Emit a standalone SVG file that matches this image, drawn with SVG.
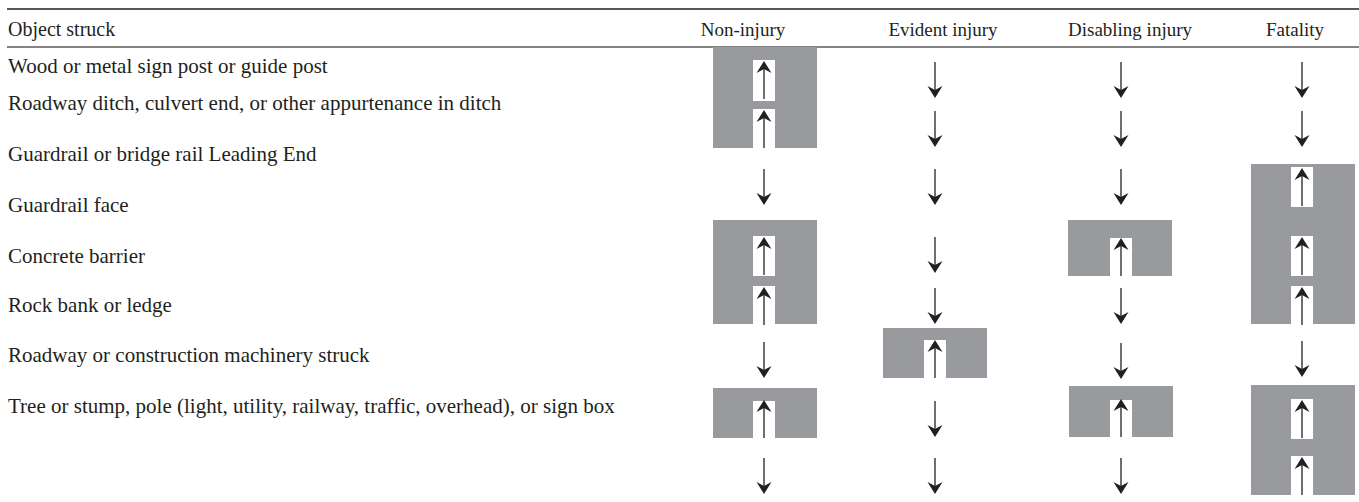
<svg xmlns="http://www.w3.org/2000/svg" width="1359" height="502" viewBox="0 0 1359 502">
<style>
text{font-family:"Liberation Serif","Times New Roman",serif;font-size:21px;fill:#231f20}
.hd{text-anchor:middle;font-size:19px}
.hl{font-size:20px}
.box{fill:#999a9e}
.slot{fill:#ffffff}
.shaft{stroke:#231f20;stroke-width:1.3;fill:none}
.head{fill:#231f20}
.rule{stroke:#231f20;stroke-width:1.6}
.rule2{stroke:#5a5a5a;stroke-width:1.4}
</style>
<defs>
<g id="dn">
<line class="shaft" x1="0" y1="0" x2="0" y2="30"/>
<path class="head" d="M0,36 L-7.5,24 L0,28 L7.5,24 Z"/>
</g>
<g id="up">
<line class="shaft" x1="0" y1="8" x2="0" y2="38"/>
<path class="head" d="M0,0 L-7.5,12 L0,8 L7.5,12 Z"/>
</g>
</defs>
<g id="rules">
<line class="rule" x1="7" y1="9" x2="1359" y2="9"/>
<line class="rule2" x1="7" y1="47" x2="1359" y2="47"/>
</g>
<g id="header">
<text class="hl" x="8" y="36">Object struck</text>
<text class="hd" x="743" y="36">Non-injury</text>
<text class="hd" x="943" y="36">Evident injury</text>
<text class="hd" x="1130" y="36">Disabling injury</text>
<text class="hd" x="1295" y="36">Fatality</text>
</g>
<g id="row-labels">
<text id="r1" x="8" y="73">Wood or metal sign post or guide post</text>
<text id="r2" x="8" y="110">Roadway ditch, culvert end, or other appurtenance in ditch</text>
<text id="r3" x="8" y="161">Guardrail or bridge rail Leading End</text>
<text id="r4" x="8" y="212">Guardrail face</text>
<text id="r5" x="8" y="263">Concrete barrier</text>
<text id="r6" x="8" y="312">Rock bank or ledge</text>
<text id="r7" x="8" y="362">Roadway or construction machinery struck</text>
<text id="r8" x="8" y="413">Tree or stump, pole (light, utility, railway, traffic, overhead), or sign box</text>
</g>
<g id="boxes">
<g id="box-non-1">
<rect class="box" x="713" y="47" width="104" height="101"/>
<rect class="slot" x="753" y="60" width="22" height="41"/>
<rect class="slot" x="753" y="109" width="22" height="39"/>
</g>
<g id="box-non-2">
<rect class="box" x="713" y="220" width="104" height="104"/>
<rect class="slot" x="753" y="236" width="22" height="40"/>
<rect class="slot" x="753" y="286" width="22" height="38"/>
</g>
<g id="box-non-3">
<rect class="box" x="713" y="388" width="104" height="50"/>
<rect class="slot" x="753" y="401" width="22" height="37"/>
</g>
<g id="box-evi-1">
<rect class="box" x="883" y="328" width="104" height="50"/>
<rect class="slot" x="924" y="340" width="22" height="38"/>
</g>
<g id="box-dis-1">
<rect class="box" x="1068" y="220" width="104" height="56"/>
<rect class="slot" x="1110" y="238" width="22" height="38"/>
</g>
<g id="box-dis-2">
<rect class="box" x="1069" y="386" width="104" height="51"/>
<rect class="slot" x="1110" y="400" width="22" height="37"/>
</g>
<g id="box-fat-1">
<rect class="box" x="1251" y="164" width="104" height="160"/>
<rect class="slot" x="1291" y="167" width="22" height="40"/>
<rect class="slot" x="1291" y="236" width="22" height="40"/>
<rect class="slot" x="1291" y="286" width="22" height="38"/>
</g>
<g id="box-fat-2">
<rect class="box" x="1251" y="385" width="104" height="110"/>
<rect class="slot" x="1291" y="399" width="22" height="40"/>
<rect class="slot" x="1291" y="456" width="22" height="39"/>
</g>
</g>
<g id="arrows">
<use href="#up" x="764" y="61"/>
<use href="#up" x="764" y="110"/>
<use href="#dn" x="764" y="169"/>
<use href="#up" x="764" y="237"/>
<use href="#up" x="764" y="287"/>
<use href="#dn" x="764" y="342"/>
<use href="#up" x="764" y="400"/>
<use href="#dn" x="764" y="458"/>

<use href="#dn" x="935" y="62"/>
<use href="#dn" x="935" y="111"/>
<use href="#dn" x="935" y="169"/>
<use href="#dn" x="935" y="237"/>
<use href="#dn" x="935" y="288"/>
<use href="#up" x="935" y="340"/>
<use href="#dn" x="935" y="401"/>
<use href="#dn" x="935" y="458"/>

<use href="#dn" x="1121" y="62"/>
<use href="#dn" x="1121" y="111"/>
<use href="#dn" x="1121" y="169"/>
<use href="#up" x="1121" y="238"/>
<use href="#dn" x="1121" y="288"/>
<use href="#dn" x="1121" y="343"/>
<use href="#up" x="1121" y="399"/>
<use href="#dn" x="1121" y="458"/>

<use href="#dn" x="1302" y="62"/>
<use href="#dn" x="1302" y="111"/>
<use href="#up" x="1302" y="168"/>
<use href="#up" x="1302" y="237"/>
<use href="#up" x="1302" y="287"/>
<use href="#dn" x="1302" y="341"/>
<use href="#up" x="1302" y="400"/>
<use href="#up" x="1302" y="457"/>
</g>
</svg>
